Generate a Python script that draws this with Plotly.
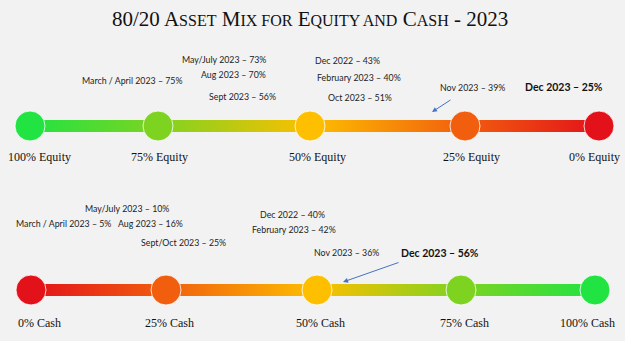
import plotly.graph_objects as go

# ---- data ----
equity_labels = ["100% Equity", "75% Equity", "50% Equity", "25% Equity", "0% Equity"]
equity_pos = [30, 158, 310, 465, 599]
equity_label_x = [39, 159, 317, 471, 594]
equity_colors = ["#21e342", "#7ed321", "#fdbf00", "#f15e0e", "#e3121a"]

cash_labels = ["0% Cash", "25% Cash", "50% Cash", "75% Cash", "100% Cash"]
cash_pos = [31, 166, 317, 461, 595]
cash_label_x = [39, 169, 320, 464, 587]
cash_colors = ["#e3121a", "#f15e0e", "#fdbf00", "#7ed321", "#21e342"]

equity_notes = ["May/July 2023 – 73%", "Aug 2023 – 70%", "March / April 2023 – 75%",
                "Sept 2023 – 56%", "Dec 2022 – 43%", "February 2023 – 40%",
                "Oct 2023 – 51%", "Nov 2023 – 39%"]
equity_note_x = [180, 199, 80, 207, 313, 315, 326, 438]
equity_note_y = [59, 74, 80, 96, 60, 77, 97, 87]
equity_current = "Dec 2023 – 25%"

cash_notes = ["May/July 2023 – 10%", "March / April 2023 – 5%", "Aug 2023 – 16%",
              "Sept/Oct 2023 – 25%", "Dec 2022 – 40%", "February 2023 – 42%",
              "Nov 2023 – 36%"]
cash_note_x = [83, 14, 116, 139, 258, 250, 312]
cash_note_y = [208, 223, 223, 242, 214, 229, 252]
cash_current = "Dec 2023 – 56%"

W, H = 625, 341
row_y = [126, 290]
label_y = [157, 323]
BG = "#f2f2f2"

fig = go.Figure()


def add_row(pos, colors, labels, label_x, y, ly):
    half = 6
    xs = [pos[0], pos[-1], pos[-1], pos[0], pos[0]]
    ys = [y - half, y - half, y + half, y + half, y - half]
    span = pos[-1] - pos[0]
    cs = [[(p - pos[0]) / span, c] for p, c in zip(pos, colors)]
    fig.add_trace(go.Scatter(x=xs, y=ys, mode="none", fill="toself",
                             fillgradient=dict(type="horizontal", colorscale=cs),
                             hoverinfo="skip", showlegend=False))
    fig.add_trace(go.Scatter(x=pos, y=[y] * len(pos), mode="markers",
                             marker=dict(size=30, color=colors,
                                         line=dict(color="rgba(255,255,255,0.8)", width=1)),
                             hoverinfo="skip", showlegend=False))
    for lx, lab in zip(label_x, labels):
        fig.add_annotation(x=lx, y=ly, text=lab, showarrow=False,
                           font=dict(family="Liberation Serif", size=12, color="#111111"))


add_row(equity_pos, equity_colors, equity_labels, equity_label_x, row_y[0], label_y[0])
add_row(cash_pos, cash_colors, cash_labels, cash_label_x, row_y[1], label_y[1])

note_font = dict(family="Lato", size=8.8, color="#222222")
for t, x, y in zip(equity_notes, equity_note_x, equity_note_y):
    fig.add_annotation(x=x, y=y, text=t, showarrow=False, font=note_font, xanchor="left")
for t, x, y in zip(cash_notes, cash_note_x, cash_note_y):
    fig.add_annotation(x=x, y=y, text=t, showarrow=False, font=note_font, xanchor="left")

bold_font = dict(family="Lato", size=10.5, color="#111111")
fig.add_annotation(x=523, y=87, text="<b>" + equity_current + "</b>", showarrow=False,
                   font=bold_font, xanchor="left")
fig.add_annotation(x=399, y=253, text="<b>" + cash_current + "</b>", showarrow=False,
                   font=bold_font, xanchor="left")

# arrows
arrow_color = "#4472c4"
fig.add_annotation(x=432, y=112, ax=452, ay=99, xref="x", yref="y", axref="x", ayref="y",
                   text="", showarrow=True, arrowhead=2, arrowsize=1, arrowwidth=1, arrowcolor=arrow_color)
fig.add_annotation(x=343, y=282, ax=400, ay=262, xref="x", yref="y", axref="x", ayref="y",
                   text="", showarrow=True, arrowhead=2, arrowsize=1, arrowwidth=1, arrowcolor=arrow_color)

# title with small caps
s = 16
title = ("80/20 A<span style='font-size:%dpx'>SSET</span> M<span style='font-size:%dpx'>IX FOR</span> "
         "E<span style='font-size:%dpx'>QUITY AND</span> C<span style='font-size:%dpx'>ASH</span> - 2023") % (s, s, s, s)
fig.add_annotation(x=310, y=19, text=title, showarrow=False,
                   font=dict(family="Liberation Serif", size=21, color="#111111"))

fig.update_xaxes(range=[0, W], visible=False, fixedrange=True)
fig.update_yaxes(range=[H, 0], visible=False, fixedrange=True)
fig.update_layout(width=W, height=H, autosize=False,
                  margin=dict(l=0, r=0, t=0, b=0),
                  paper_bgcolor=BG, plot_bgcolor=BG)

fig.write_html("out.html", config={"displayModeBar": False})
